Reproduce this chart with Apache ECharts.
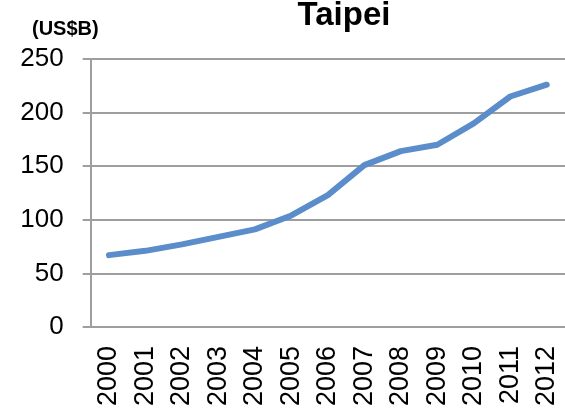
<!DOCTYPE html>
<html>
<head>
<meta charset="utf-8">
<script src="https://cdn.jsdelivr.net/npm/echarts@6/dist/echarts.min.js"></script>
<style>
  html, body { margin: 0; padding: 0; background: #fff; }
  #chart { width: 565px; height: 409px; }
</style>
</head>
<body>
<div id="chart"></div>
<script>
// 数据
const years = ['2000', '2001', '2002', '2003', '2004', '2005', '2006',
  '2007', '2008', '2009', '2010', '2011', '2012']
const gdp = [67, 71, 77, 84, 91, 104, 123, 151, 164, 170, 190, 215, 226]
const yTicks = [0, 50, 100, 150, 200, 250]

const font = 'Liberation Sans, Arial, sans-serif'
const gray = '#9E9E9E'

const chart = echarts.init(document.getElementById('chart'))
chart.setOption({
  animation: false,
  title: [
    {
      text: 'Taipei',
      left: 339,
      top: -6,
      textAlign: 'center',
      textStyle: { fontFamily: font, fontSize: 33, fontWeight: 'bold', color: '#000' }
    },
    {
      text: '(US$B)',
      left: 27,
      top: 14,
      textStyle: { fontFamily: font, fontSize: 20, fontWeight: 'bold', color: '#000' }
    }
  ],
  grid: { left: 90.7, right: -10.6, top: 59, bottom: 79.7 },
  xAxis: {
    type: 'category',
    data: years,
    boundaryGap: true,
    axisLine: { lineStyle: { color: gray, width: 2 } },
    axisTick: { length: 8, lineStyle: { color: gray, width: 2 } },
    axisLabel: {
      rotate: 90,
      margin: 19,
      fontFamily: font,
      fontSize: 27,
      color: '#000',
      interval: 0
    }
  },
  yAxis: {
    type: 'value',
    min: yTicks[0],
    max: yTicks[yTicks.length - 1],
    interval: 50,
    axisLine: { show: true, lineStyle: { color: gray, width: 2 } },
    axisTick: { show: true, length: 8, lineStyle: { color: gray, width: 2 } },
    splitLine: { lineStyle: { color: gray, width: 2 } },
    axisLabel: { margin: 27, fontFamily: font, fontSize: 26, color: '#000' }
  },
  series: [
    {
      type: 'line',
      data: gdp,
      symbol: 'none',
      lineStyle: { color: '#5A8DC9', width: 6, cap: 'round', join: 'round' }
    }
  ]
})
</script>
</body>
</html>
